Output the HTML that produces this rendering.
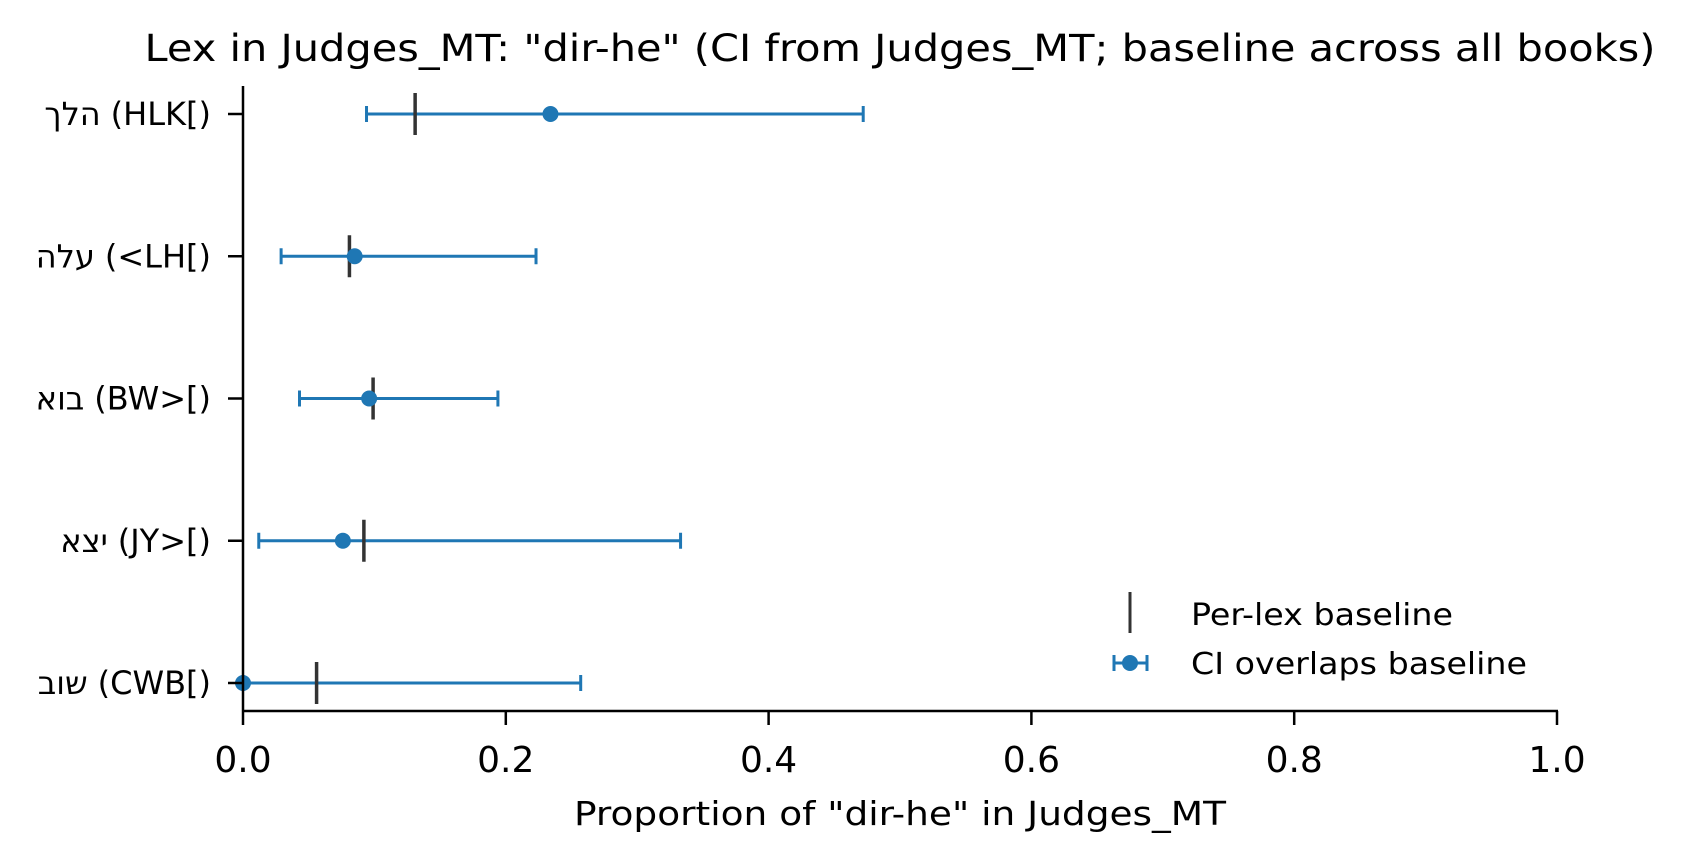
<!DOCTYPE html>
<html><head><meta charset="utf-8"><style>
html,body{margin:0;padding:0;background:#fff;}
svg{display:block;font-family:"DejaVu Sans","Liberation Sans","Noto Sans CJK SC",sans-serif;}
</style></head><body>
<svg id="chart" width="1687" height="864" viewBox="0 0 1687 864" xmlns="http://www.w3.org/2000/svg">
<rect width="1687" height="864" fill="#fff"/>
<text x="900" y="61" font-size="37" text-anchor="middle" textLength="1511" lengthAdjust="spacingAndGlyphs" fill="#000">Lex in Judges_MT: "dir-he" (CI from Judges_MT; baseline across all books)</text>
<g id="plot"></g>
<line x1="243" y1="86" x2="243" y2="711" stroke="#000" stroke-width="2.5"/>
<line x1="242" y1="711" x2="1558" y2="711" stroke="#000" stroke-width="2.5"/>
<g id="xticks"></g>
<g id="yticks"></g>
<text x="900" y="825" font-size="33" text-anchor="middle" textLength="652" lengthAdjust="spacingAndGlyphs" fill="#000">Proportion of "dir-he" in Judges_MT</text>
<g>
<line x1="1130" y1="592" x2="1130" y2="633" stroke="#333" stroke-width="3"/>
<text x="1191" y="625" font-size="30" textLength="262" lengthAdjust="spacingAndGlyphs" fill="#000">Per-lex baseline</text>
<g>
<line x1="1114" y1="663" x2="1147" y2="663" stroke="#1f77b4" stroke-width="3"/>
<line x1="1114" y1="655" x2="1114" y2="671" stroke="#1f77b4" stroke-width="3"/>
<line x1="1147" y1="655" x2="1147" y2="671" stroke="#1f77b4" stroke-width="3"/>
<circle cx="1130" cy="663" r="8" fill="#1f77b4"/>
</g>
<text x="1191" y="674" font-size="30" textLength="336" lengthAdjust="spacingAndGlyphs" fill="#000">CI overlaps baseline</text>
</g>
</svg>
<script>
const hebrewLabels = ["הלך", "עלה", "בוא", "יצא", "שוב"];
const codeLabels = ["(HLK[)", "(<LH[)", "(BW>[)", "(JY>[)", "(CWB[)"];
const pointValues = [0.234, 0.085, 0.096, 0.076, 0.0];
const ciLow = [0.094, 0.029, 0.043, 0.012, 0.0];
const ciHigh = [0.472, 0.223, 0.194, 0.333, 0.257];
const baselineValues = [0.131, 0.081, 0.099, 0.092, 0.056];
const xTickValues = [0, 0.2, 0.4, 0.6, 0.8, 1.0];
const xTickLabels = ["0.0", "0.2", "0.4", "0.6", "0.8", "1.0"];

const NS = "http://www.w3.org/2000/svg";
function xs(v){ return 243 + v * (1557 - 243); }
function ys(i){ return 114 + i * (683 - 114) / (codeLabels.length - 1); }
function mk(tag, attrs, parent){
  const e = document.createElementNS(NS, tag);
  for (const k in attrs) e.setAttribute(k, attrs[k]);
  parent.appendChild(e);
  return e;
}
const plot = document.getElementById("plot");
const xt = document.getElementById("xticks");
const yt = document.getElementById("yticks");

xTickValues.forEach((v, i) => {
  const t = mk("line", {x1: xs(v), x2: xs(v), y1: 711, y2: 725, stroke: "#000", "stroke-width": 2.5}, xt);
  
  
  const l = mk("text", {x: xs(v), y: 772, "font-size": 36, "text-anchor": "middle", fill: "#000"}, xt);
  
  
  l.textContent = xTickLabels[i];
});

codeLabels.forEach((c, i) => {
  const y = ys(i);
  const t = mk("line", {x1: 228, x2: 243, y1: y, y2: y, stroke: "#000", "stroke-width": 2.5}, yt);
  
  
  const l = mk("text", {x: 211, y: y + 11, "font-size": 32, "text-anchor": "end", fill: "#000"}, yt);
  
  
  l.textContent = c;
  const w = l.getComputedTextLength();
  const h = mk("text", {x: 211 - w - 10, y: y + 11, "font-size": 32, "text-anchor": "end", fill: "#000"}, yt);
  
  
  h.textContent = hebrewLabels[i];

  const g = mk("g", {}, plot);
  
  
  const lo = xs(ciLow[i]), hi = xs(ciHigh[i]);
  mk("line", {x1: lo, x2: hi, y1: y, y2: y, stroke: "#1f77b4", "stroke-width": 3}, g);
  const c1 = mk("line", {x1: lo, x2: lo, y1: y - 8, y2: y + 8, stroke: "#1f77b4", "stroke-width": 3}, g);
  
  
  const c2 = mk("line", {x1: hi, x2: hi, y1: y - 8, y2: y + 8, stroke: "#1f77b4", "stroke-width": 3}, g);
  
  
  const b = mk("line", {x1: xs(baselineValues[i]), x2: xs(baselineValues[i]), y1: y - 21, y2: y + 21, stroke: "#333", "stroke-width": 3.5}, g);
  
  
  const p = mk("circle", {cx: xs(pointValues[i]), cy: y, r: 8, fill: "#1f77b4"}, g);
  
  
});
</script>
</body></html>
